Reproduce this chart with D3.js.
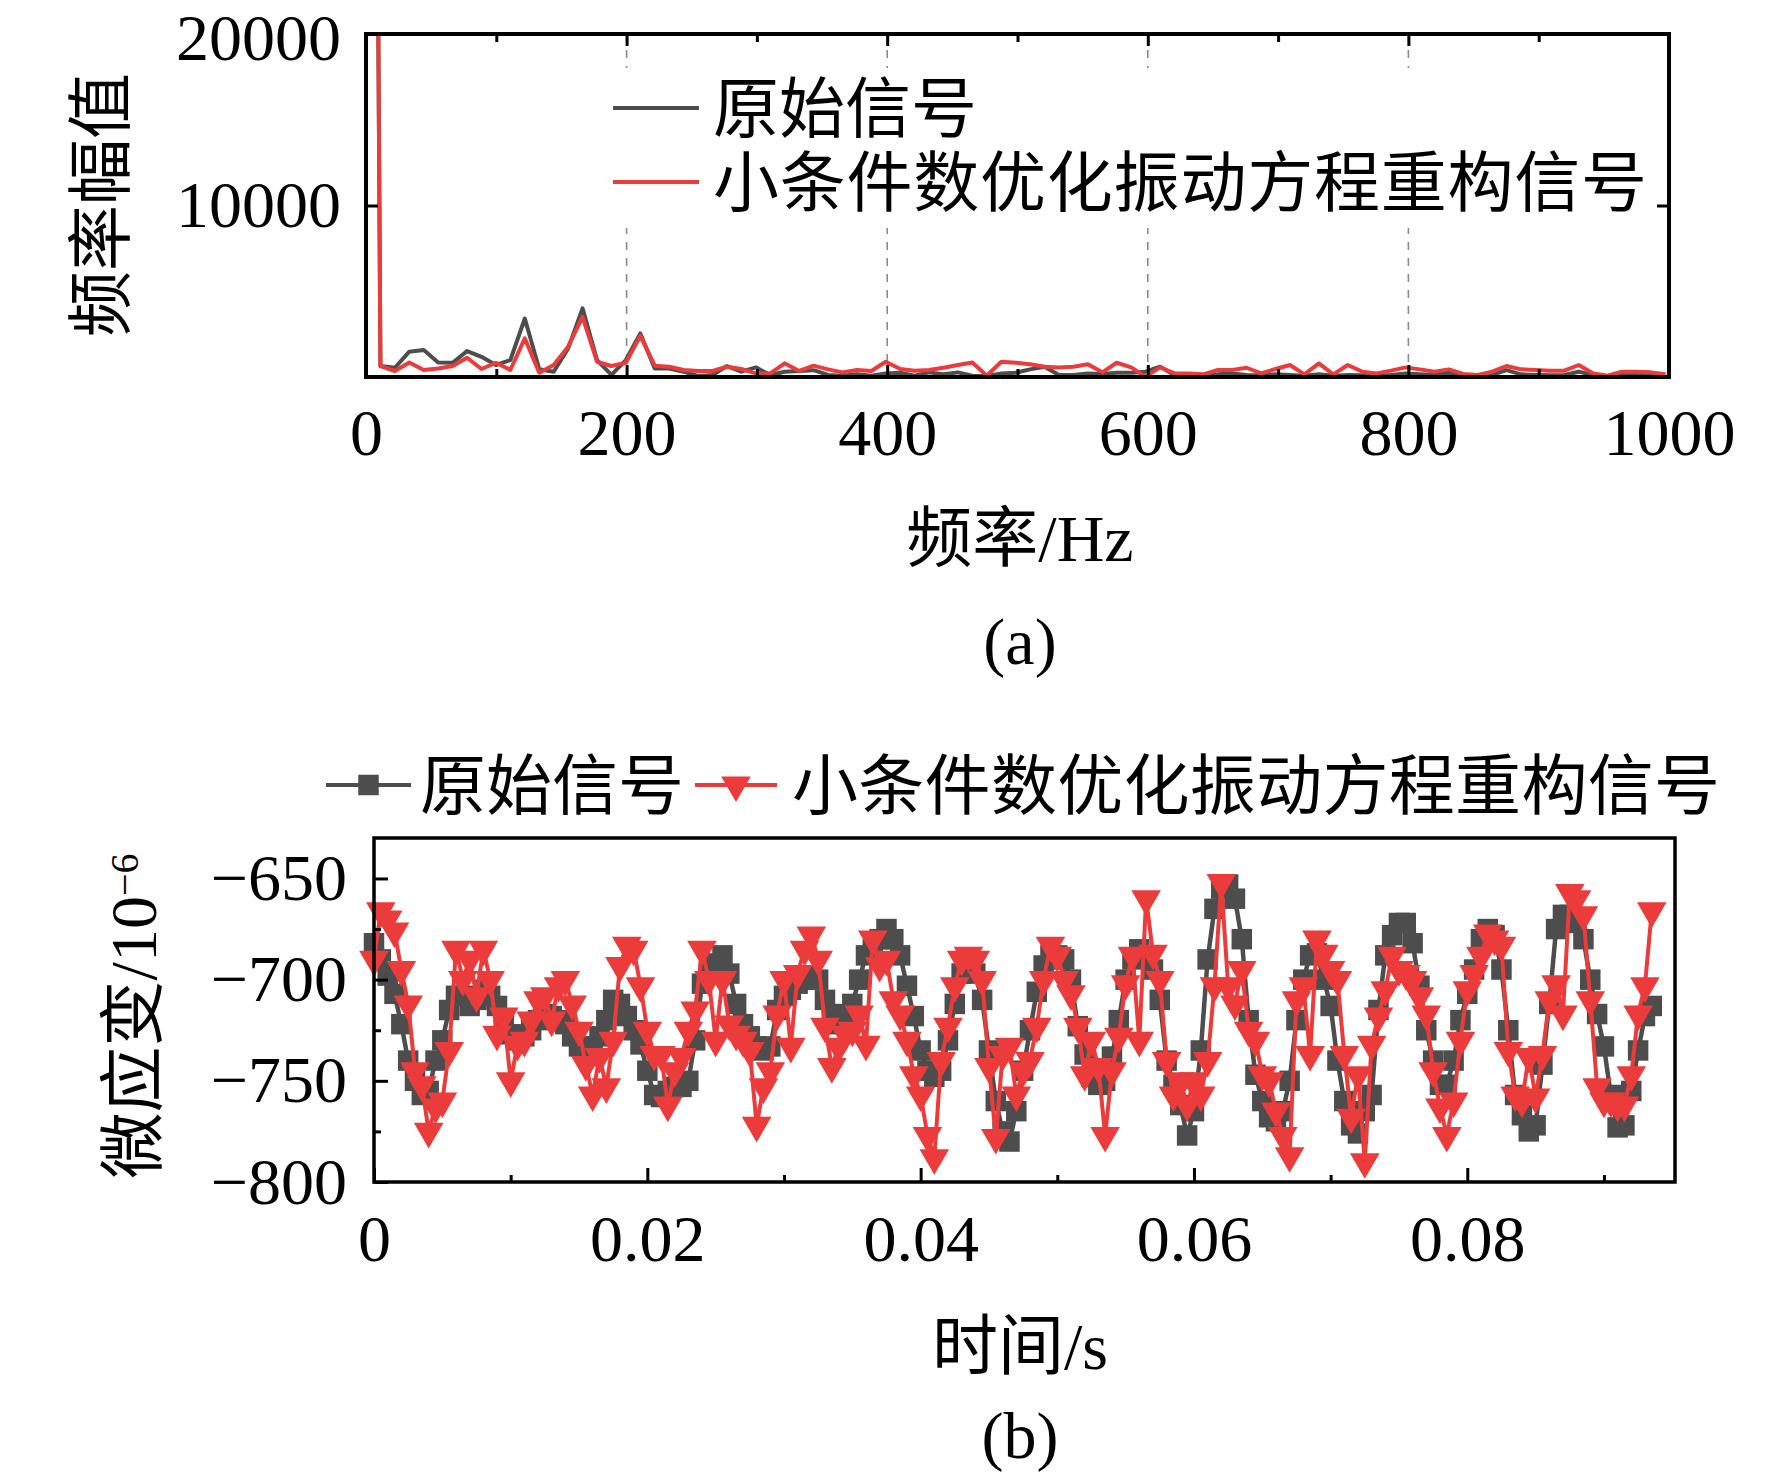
<!DOCTYPE html>
<html>
<head>
<meta charset="utf-8">
<script src="https://cdn.jsdelivr.net/npm/d3@7"></script>
<style>
  body { margin: 0; background: #fff; }
  text { font-family: 'Liberation Serif', 'Noto Sans CJK SC', serif; fill: #000; }
</style>
</head>
<body>
<svg id="chart"></svg>
<script>
// ---- data (a): spectrum, one value every freqStep Hz starting at 0
let freqStep = 11.08
let specOriginal = [133000,
  640, 540, 1475, 1570, 850, 830, 1510, 1180, 700, 990, 3410, 450, 310, 1670, 4000,
  990, 120, 990, 2540, 500, 500, 310, 60, 120, 640, 310, 560, 120, 310, 350,
  400, 120, 80, 155, 80, 210, 250, 80, 270, 155, 270, 80, 60, 210, 250,
  445, 600, 120, 120, 210, 175, 250, 250, 310, 600, 120, 80, 120, 155, 210,
  120, 100, 155, 120, 80, 155, 80, 120, 100, 80, 120, 200, 155, 120, 250,
  100, 80, 120, 400, 155, 120, 100, 120, 310, 100, 60, 120, 155, 120, 100]
let specRebuilt = [133000,
  640, 350, 850, 410, 500, 640, 1125, 465, 830, 410, 2250, 250, 700, 1765, 3510,
  890, 640, 830, 2400, 660, 600, 410, 350, 350, 600, 465, 210, 210, 800, 350,
  660, 445, 270, 410, 350, 890, 465, 370, 410, 540, 700, 850, 80, 890, 830,
  740, 600, 560, 600, 740, 270, 830, 560, 20, 560, 210, 210, 155, 410, 410,
  540, 210, 465, 700, 155, 790, 155, 700, 310, 210, 370, 560, 445, 310, 445,
  175, 120, 310, 640, 445, 410, 370, 370, 700, 210, 80, 310, 310, 270, 155]
let freqTicks = [0, 200, 400, 600, 800, 1000]
let freqMinor = [100, 300, 500, 700, 900]
let ampTicks = [10000, 20000]

// ---- data (b): strain, one sample every timeStep s starting at 0
let timeStep = 0.0005
let strainOriginal = [
  -682, -690, -698, -707, -722, -740, -750, -757, -755, -740, -730, -715, -708, -708, -713, -710,
  -705, -708, -713, -722, -727, -730, -728, -725, -720, -717, -718, -720, -722, -728, -733, -735,
  -733, -728, -720, -710, -712, -718, -725, -732, -745, -757, -758, -755, -753, -753, -750, -730,
  -702, -697, -692, -688, -697, -712, -722, -728, -733, -735, -733, -715, -708, -705, -702, -700,
  -698, -700, -710, -717, -722, -722, -712, -700, -688, -685, -680, -675, -680, -688, -703, -718,
  -735, -745, -748, -745, -730, -712, -697, -692, -697, -710, -735, -760, -775, -780, -765, -745,
  -725, -706, -693, -688, -688, -690, -700, -723, -737, -748, -752, -750, -738, -720, -700, -690,
  -685, -688, -695, -710, -740, -752, -762, -777, -765, -735, -690, -665, -655, -653, -660, -680,
  -720, -747, -760, -768, -770, -765, -750, -720, -700, -688, -687, -700, -713, -740, -760, -772,
  -776, -765, -757, -715, -688, -678, -672, -672, -682, -703, -725, -740, -752, -752, -740, -720,
  -707, -695, -680, -675, -678, -695, -725, -757, -767, -775, -772, -742, -712, -675, -668, -668,
  -672, -680, -700, -717, -733, -757, -773, -772, -755, -735, -718, -713]
let strainRebuilt = [
  -690, -666, -670, -676, -695, -712, -745, -752, -775, -763, -760, -735, -685, -700, -690, -708,
  -685, -700, -727, -718, -750, -732, -730, -720, -710, -708, -720, -703, -700, -712, -725, -742,
  -757, -738, -753, -730, -693, -683, -685, -703, -725, -737, -737, -762, -745, -738, -725, -715,
  -685, -700, -730, -700, -722, -727, -730, -735, -772, -753, -745, -717, -700, -733, -697, -685,
  -678, -690, -723, -743, -733, -727, -725, -717, -732, -680, -693, -690, -710, -717, -730, -747,
  -757, -777, -788, -740, -723, -703, -690, -688, -690, -700, -743, -778, -737, -733, -757, -745,
  -740, -723, -700, -683, -688, -700, -707, -723, -747, -730, -743, -777, -745, -728, -702, -688,
  -730, -660, -687, -700, -740, -757, -750, -762, -750, -757, -740, -703, -652, -703, -712, -695,
  -725, -730, -747, -750, -765, -777, -787, -710, -703, -737, -680, -687, -695, -700, -737, -768,
  -747, -790, -732, -718, -705, -688, -695, -697, -700, -708, -717, -745, -763, -777, -760, -730,
  -705, -697, -688, -677, -680, -683, -735, -757, -760, -738, -758, -737, -710, -702, -717, -657,
  -660, -668, -710, -753, -760, -760, -762, -762, -747, -717, -703, -666]
let timeTicks = [0, 0.02, 0.04, 0.06, 0.08]
let timeMinor = [0.01, 0.03, 0.05, 0.07, 0.09]
let strainTicks = [-800, -750, -700, -650]
let strainMinor = [-775, -725, -675]

let seriesNames = ['原始信号', '小条件数优化振动方程重构信号']

let grey = '#4d4d4d'
let red = '#ec3b3b'
let fontSize = 66

let width = 1772
let height = 1482

let svg = d3.select('#chart').attr('width', width).attr('height', height)
svg.append('rect').attr('width', width).attr('height', height).attr('fill', '#fff')

// little helper so axes keep the tick marks but lose the domain line
let cleanAxis = (g) => {
    g.select('.domain').remove()
    g.selectAll('.tick line').attr('stroke', '#000').attr('stroke-width', 3)
    g.selectAll('.tick text').style('font-size', fontSize + 'px').attr('fill', '#000')
}

// ================= (a) spectrum =================
let a = { left: 366, right: 1669, top: 34, bottom: 377 }

let xFreq = d3.scaleLinear().domain([0, 1000]).range([a.left, a.right])
let yAmp = d3.scaleLinear().domain([0, 20000]).range([a.bottom, a.top])

let specData = (values) => values.map((v, i) => [i * freqStep, v])

// dashed grid
svg.append('g')
    .selectAll('line')
    .data([200, 400, 600, 800])
    .enter()
    .append('line')
    .attr('x1', (d) => xFreq(d)).attr('x2', (d) => xFreq(d))
    .attr('y1', a.top).attr('y2', a.bottom)
    .attr('stroke', '#8a8a8a')
    .attr('stroke-width', 1.6)
    .attr('stroke-dasharray', '8,8')

// legend box hides the grid behind the labels
svg.append('rect')
    .attr('x', 600).attr('y', 68)
    .attr('width', 1060).attr('height', 160)
    .attr('fill', '#fff')

svg.append('clipPath').attr('id', 'clipA')
    .append('rect')
    .attr('x', a.left).attr('y', a.top)
    .attr('width', a.right - a.left).attr('height', a.bottom - a.top)

let specLine = d3.line()
    .x((d) => xFreq(d[0]))
    .y((d) => yAmp(d[1]))

svg.append('path')
    .datum(specData(specOriginal))
    .attr('clip-path', 'url(#clipA)')
    .attr('d', specLine)
    .attr('fill', 'none')
    .attr('stroke', grey)
    .attr('stroke-width', 4)
    .attr('stroke-linejoin', 'round')

svg.append('path')
    .datum(specData(specRebuilt))
    .attr('clip-path', 'url(#clipA)')
    .attr('d', specLine)
    .attr('fill', 'none')
    .attr('stroke', red)
    .attr('stroke-width', 4)
    .attr('stroke-linejoin', 'round')

// axes, ticks point inward
svg.append('g')
    .attr('transform', 'translate(0,' + a.bottom + ')')
    .call(d3.axisBottom(xFreq).tickValues(freqTicks).tickSize(-12).tickPadding(31).tickFormat(d3.format('d')))
    .call(cleanAxis)
svg.append('g')
    .attr('transform', 'translate(0,' + a.bottom + ')')
    .call(d3.axisBottom(xFreq).tickValues(freqMinor).tickSize(-8).tickFormat(''))
    .call(cleanAxis)
svg.append('g')
    .attr('transform', 'translate(0,' + a.top + ')')
    .call(d3.axisTop(xFreq).tickValues(freqTicks).tickSize(-12).tickFormat(''))
    .call(cleanAxis)
svg.append('g')
    .attr('transform', 'translate(0,' + a.top + ')')
    .call(d3.axisTop(xFreq).tickValues(freqMinor).tickSize(-8).tickFormat(''))
    .call(cleanAxis)
svg.append('g')
    .attr('transform', 'translate(' + a.left + ',0)')
    .call(d3.axisLeft(yAmp).tickValues(ampTicks).tickSize(-12).tickPadding(25).tickFormat(d3.format('d')))
    .call(cleanAxis)
    // the top label sits right at the page edge, nudge it down a touch
    .call((g) => g.selectAll('.tick text').filter((d) => d === 20000).attr('dy', '0.38em'))
svg.append('g')
    .attr('transform', 'translate(' + a.right + ',0)')
    .call(d3.axisRight(yAmp).tickValues([10000]).tickSize(-12).tickFormat(''))
    .call(cleanAxis)

svg.append('rect')
    .attr('x', a.left).attr('y', a.top)
    .attr('width', a.right - a.left).attr('height', a.bottom - a.top)
    .attr('fill', 'none').attr('stroke', '#000').attr('stroke-width', 4)

// legend (a)
let legA = [
    { name: seriesNames[0], color: grey, y: 108, len: null },
    { name: seriesNames[1], color: red, y: 182, len: 934 }
]
legA.forEach((item) => {
    svg.append('line')
        .attr('x1', 613).attr('x2', 699)
        .attr('y1', item.y).attr('y2', item.y)
        .attr('stroke', item.color).attr('stroke-width', 4)
    let t = svg.append('text')
        .attr('x', 713).attr('y', item.y + 24)
        .style('font-size', fontSize + 'px')
        .text(item.name)
    if (item.len) t.attr('textLength', item.len).attr('lengthAdjust', 'spacing')
})

svg.append('text')
    .attr('transform', 'translate(124,205) rotate(-90)')
    .attr('text-anchor', 'middle')
    .style('font-size', fontSize + 'px')
    .text('频率幅值')

svg.append('text')
    .attr('x', 1020).attr('y', 561)
    .attr('text-anchor', 'middle')
    .style('font-size', fontSize + 'px')
    .text('频率/Hz')

svg.append('text')
    .attr('x', 1020).attr('y', 664)
    .attr('text-anchor', 'middle')
    .style('font-size', fontSize + 'px')
    .text('(a)')

// ================= (b) strain in time =================
let b = { left: 374, right: 1675, top: 838, bottom: 1182 }

let xTime = d3.scaleLinear().domain([0, 0.0952]).range([b.left, b.right])
let yStrain = d3.scaleLinear().domain([-800, -630]).range([b.bottom, b.top])

let strainData = (values) => values.map((v, i) => [i * timeStep, v])

let strainLine = d3.line()
    .x((d) => xTime(d[0]))
    .y((d) => yStrain(d[1]))

let squareSym = d3.symbol().type(d3.symbolSquare).size(420)
let triSym = d3.symbol().type(d3.symbolTriangle).size(380)

let drawSeries = (values, color, width, sym, rotate) => {
    let pts = strainData(values)
    svg.append('path')
        .datum(pts)
        .attr('d', strainLine)
        .attr('fill', 'none')
        .attr('stroke', color)
        .attr('stroke-width', width)
        .attr('stroke-linejoin', 'round')
    svg.append('g')
        .selectAll('path')
        .data(pts)
        .enter()
        .append('path')
        .attr('d', sym)
        .attr('fill', color)
        .attr('transform', (d) => 'translate(' + xTime(d[0]) + ',' + yStrain(d[1]) + ')' + (rotate ? ' rotate(180)' : ''))
}

drawSeries(strainOriginal, grey, 4.5, squareSym, false)
drawSeries(strainRebuilt, red, 4, triSym, true)

svg.append('g')
    .attr('transform', 'translate(0,' + b.bottom + ')')
    .call(d3.axisBottom(xTime).tickValues(timeTicks).tickSize(-14).tickPadding(32)
        .tickFormat((d) => d === 0 ? '0' : d3.format('.2f')(d)))
    .call(cleanAxis)
svg.append('g')
    .attr('transform', 'translate(0,' + b.bottom + ')')
    .call(d3.axisBottom(xTime).tickValues(timeMinor).tickSize(-7).tickFormat(''))
    .call(cleanAxis)
svg.append('g')
    .attr('transform', 'translate(' + b.left + ',0)')
    .call(d3.axisLeft(yStrain).tickValues(strainTicks).tickSize(-14).tickPadding(27).tickFormat(d3.format('d')))
    .call(cleanAxis)
svg.append('g')
    .attr('transform', 'translate(' + b.left + ',0)')
    .call(d3.axisLeft(yStrain).tickValues(strainMinor).tickSize(-7).tickFormat(''))
    .call(cleanAxis)

svg.append('rect')
    .attr('x', b.left).attr('y', b.top)
    .attr('width', b.right - b.left).attr('height', b.bottom - b.top)
    .attr('fill', 'none').attr('stroke', '#000').attr('stroke-width', 3.5)

// legend (b), sits above the frame in one row
let legB = [
    { name: seriesNames[0], color: grey, x1: 326, x2: 411, tx: 420, sym: squareSym, rot: false, len: null },
    { name: seriesNames[1], color: red, x1: 695, x2: 777, tx: 792, sym: triSym, rot: true, len: 928 }
]
legB.forEach((item) => {
    let ly = 785
    svg.append('line')
        .attr('x1', item.x1).attr('x2', item.x2)
        .attr('y1', ly).attr('y2', ly)
        .attr('stroke', item.color).attr('stroke-width', 4)
    svg.append('path')
        .attr('d', item.sym)
        .attr('fill', item.color)
        .attr('transform', 'translate(' + ((item.x1 + item.x2) / 2) + ',' + ly + ')' + (item.rot ? ' rotate(180)' : ''))
    let t = svg.append('text')
        .attr('x', item.tx).attr('y', ly + 24)
        .style('font-size', fontSize + 'px')
        .text(item.name)
    if (item.len) t.attr('textLength', item.len).attr('lengthAdjust', 'spacing')
})

let yTitle = svg.append('text')
    .attr('transform', 'translate(156,1016) rotate(-90)')
    .attr('text-anchor', 'middle')
    .style('font-size', fontSize + 'px')
yTitle.append('tspan').text('微应变/10')
yTitle.append('tspan')
    .attr('dy', '-0.45em')
    .style('font-size', '40px')
    .text('\u22126')

svg.append('text')
    .attr('x', 1020).attr('y', 1369)
    .attr('text-anchor', 'middle')
    .style('font-size', fontSize + 'px')
    .text('时间/s')

svg.append('text')
    .attr('x', 1020).attr('y', 1458)
    .attr('text-anchor', 'middle')
    .style('font-size', fontSize + 'px')
    .text('(b)')
</script>
</body>
</html>
